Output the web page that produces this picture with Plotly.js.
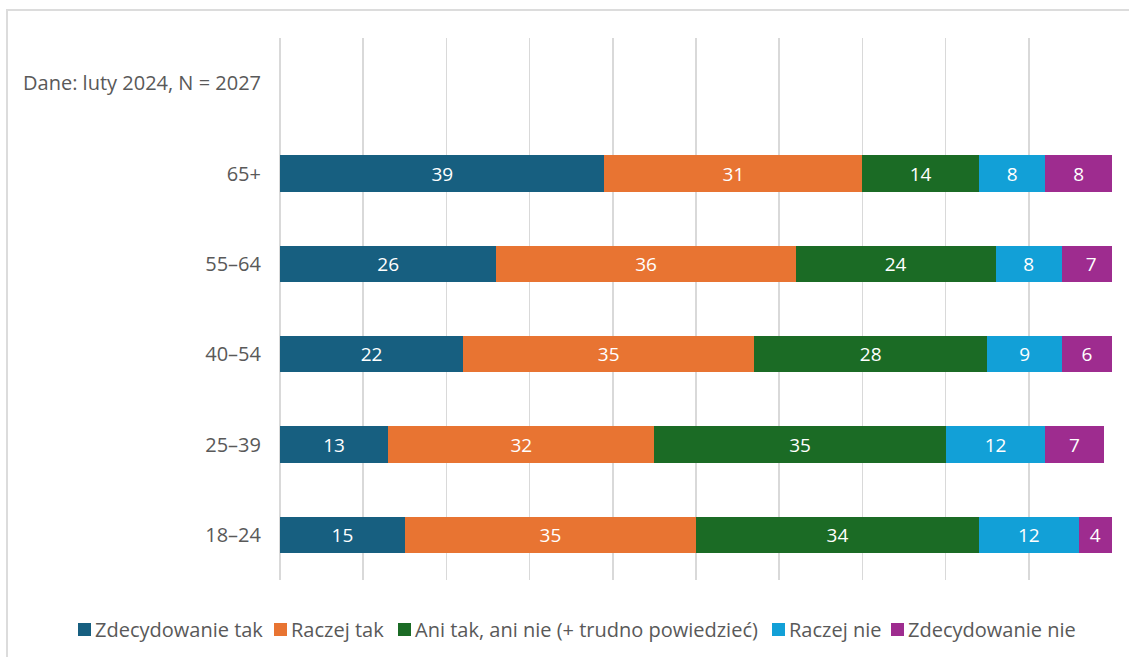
<!DOCTYPE html>
<html><head><meta charset="utf-8">
<script src="https://cdn.plot.ly/plotly-3.0.1.min.js"></script>
<style>
html,body{margin:0;padding:0;background:#fff;overflow:hidden;}
#wrap{position:relative;width:1129px;height:657px;}
#frame{position:absolute;left:6px;top:9px;width:1200px;height:700px;border:2px solid #dcdcdc;box-sizing:border-box;}
#chart{position:absolute;left:0;top:0;width:1129px;height:657px;}
</style></head>
<body><div id="wrap"><div id="frame"></div><div id="chart"></div></div>
<script>
const categories = ["18–24", "25–39", "40–54", "55–64", "65+", "Dane: luty 2024, N = 2027"];
const seriesNames = ["Zdecydowanie tak", "Raczej tak", "Ani tak, ani nie (+ trudno powiedzieć)", "Raczej nie", "Zdecydowanie nie"];
const zdecydowanieTak = [15, 13, 22, 26, 39];
const raczejTak = [35, 32, 35, 36, 31];
const aniTakAniNie = [34, 35, 28, 24, 14];
const raczejNie = [12, 12, 9, 8, 8];
const zdecydowanieNie = [4, 7, 6, 7, 8];
const colors = ["#175f80", "#e87432", "#1b6b25", "#12a0d7", "#9e2c8f"];
const allValues = [zdecydowanieTak, raczejTak, aniTakAniNie, raczejNie, zdecydowanieNie];
const FONT = 'Open Sans, Noto Sans, sans-serif';

const W = 1129, H = 657;
const M = {l: 280, r: 17, t: 38, b: 77};
const PW = W - M.l - M.r, PH = H - M.t - M.b;
const px2x = p => (p - M.l) / PW;
const py2y = p => (H - M.b - p) / PH;

const traces = allValues.map((vals, i) => ({
  type: 'bar',
  orientation: 'h',
  name: seriesNames[i],
  y: categories.slice(0, vals.length),
  x: vals,
  marker: {color: colors[i]},
  width: 0.4,
  texttemplate: '%{x}',
  textposition: 'inside',
  insidetextanchor: 'middle',
  textangle: 0,
  textfont: {color: '#ffffff', size: 19, family: FONT},
  hoverinfo: 'none',
  showlegend: false
}));

// legend drawn as squares + text (layout positions in pixels)
const legendSquareLeft = [78, 274, 398, 772, 891];
const shapes = [], annotations = [];
seriesNames.forEach((name, i) => {
  const sx = legendSquareLeft[i];
  shapes.push({type: 'rect', xref: 'paper', yref: 'paper',
    x0: px2x(sx), x1: px2x(sx + 13), y0: py2y(623), y1: py2y(636),
    fillcolor: colors[i], line: {width: 0}});
  annotations.push({xref: 'paper', yref: 'paper', x: px2x(sx + 15), y: py2y(629),
    xanchor: 'left', yanchor: 'middle', showarrow: false, text: name,
    font: {size: 20, color: '#595959', family: FONT}});
});

const layout = {
  width: W, height: H,
  barmode: 'stack',
  paper_bgcolor: 'rgba(0,0,0,0)',
  plot_bgcolor: 'rgba(0,0,0,0)',
  margin: M,
  font: {family: FONT, size: 20, color: '#595959'},
  showlegend: false,
  shapes: shapes,
  annotations: annotations,
  xaxis: {
    range: [0, 100], dtick: 10, showticklabels: false,
    showgrid: true, gridcolor: '#d9d9d9', gridwidth: 1.5,
    zeroline: true, zerolinecolor: '#d9d9d9', zerolinewidth: 1.5,
    showline: false, fixedrange: true
  },
  yaxis: {
    type: 'category', categoryorder: 'array', categoryarray: categories,
    range: [-0.5, 5.5], showgrid: false, zeroline: false, showline: false,
    ticks: '', ticklabelstandoff: 18,
    tickfont: {size: 20, color: '#595959', family: FONT}, fixedrange: true
  }
};
Plotly.newPlot('chart', traces, layout, {displayModeBar: false, staticPlot: true});
</script></body></html>
